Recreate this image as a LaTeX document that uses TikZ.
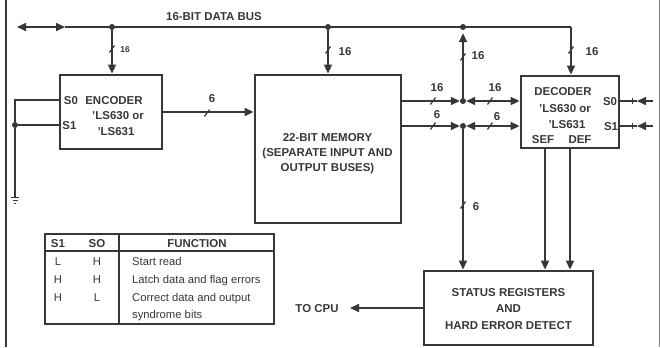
\documentclass[tikz,border=0pt]{standalone}
\usepackage{fontspec}
\setmainfont{Liberation Sans}
\usetikzlibrary{arrows.meta}
\definecolor{ink}{RGB}{55,55,55}
\begin{document}
\begin{tikzpicture}[x=1bp,y=-1bp,
  >={Triangle[length=9bp,width=8bp]},
  font=\fontsize{11.5}{13}\selectfont\bfseries,
  box/.style={draw=ink, line width=2.8bp, rectangle, inner sep=0pt},
  wire/.style={draw=ink, line width=1.6bp},
  dot/.style={circle, fill=ink, inner sep=0pt, minimum size=6bp},
  lbl/.style={inner sep=0pt, text height=8bp, text depth=0bp, text=ink},
  small/.style={lbl, font=\fontsize{8.5}{10}\selectfont\bfseries},
  tbl/.style={inner sep=0pt, text height=8bp, text depth=2bp, text=ink, font=\fontsize{11.3}{13}\selectfont},
  busslash/.pic={\draw[ink, line width=1.2bp] (-2.5,3.5) -- (2.5,-3.5);}
]
\useasboundingbox (0,0) rectangle (660,347);

% frame lines
\draw[ink, line width=2bp] (6,0) -- (6,347);
\draw[gray, line width=0.8bp] (659,0) -- (659,347);

% boxes
\node[box, minimum width=102bp, minimum height=74bp] (enc) at (111,112) {};
\node[box, minimum width=146bp, minimum height=148bp] (mem) at (328,149) {};
\node[box, minimum width=98bp, minimum height=72bp] (dec) at (570,112) {};
\node[box, minimum width=169bp, minimum height=74bp] (stat) at (508.5,308) {};

% box texts
\node[lbl] (tS0e) at (71,100) {S0};
\node[lbl] (tS1e) at (69.5,125) {S1};
\node[lbl] (tenc1) at (114,100) {ENCODER};
\node[lbl] (tenc2) at (118,115) {'LS630 or};
\node[lbl] (tenc3) at (116,131) {'LS631};

\node[lbl] (tmem1) at (327.5,137) {22-BIT MEMORY};
\node[lbl] (tmem2) at (327.5,152) {(SEPARATE INPUT AND};
\node[lbl] (tmem3) at (327.5,167) {OUTPUT BUSES)};

\node[lbl] (tdec1) at (563,91) {DECODER};
\node[lbl] (tdec2) at (565,108) {'LS630 or};
\node[lbl] (tdec3) at (567,124) {'LS631};
\node[lbl] (tsef) at (543,139) {SEF};
\node[lbl] (tdef) at (580,139) {DEF};
\node[lbl] (tS0d) at (610,101) {S0};
\node[lbl] (tS1d) at (611,126) {S1};

\node[lbl] (tst1) at (508.5,292) {STATUS REGISTERS};
\node[lbl] (tst2) at (508.5,308) {AND};
\node[lbl] (tst3) at (508.5,325) {HARD ERROR DETECT};

% data bus
\coordinate (busL) at (17,27);
\coordinate (busA) at (65,27);
\coordinate (busR) at (571,27);
\node[dot] (j1) at (112,27) {};
\node[dot] (j2) at (328,27) {};
\node[dot] (j3) at (463,27) {};
\draw[wire,<->] (busL) -- (busA);
\draw[wire] (busA) -- (busR);
\draw[wire,->] (busR) -- (busR |- dec.north);
\node[lbl] (tbus) at (214,16) {16-BIT DATA BUS};

\draw[wire,->] (j1) -- (j1 |- enc.north);
\pic at (112,49) {busslash};
\node[small] (l1) at (125,48) {16};

\draw[wire,->] (j2) -- (j2 |- mem.north);
\pic at (328,50) {busslash};
\node[lbl] (l2) at (345,51) {16};

\pic at (571,50) {busslash};
\node[lbl] (l3) at (592,51) {16};

% encoder to memory
\draw[wire,->] (enc.east) -- (enc.east -| mem.west);
\pic at (207,113) {busslash};
\node[lbl] (l4) at (212,98) {6};

% memory outputs
\node[dot] (k16) at (463,101) {};
\node[dot] (k6) at (463,126) {};
\draw[wire,->] (k16 -| mem.east) -- (k16);
\draw[wire,<->] (k16) -- (k16 -| dec.west);
\draw[wire,->] (k6 -| mem.east) -- (k6);
\draw[wire,<->] (k6) -- (k6 -| dec.west);
\pic at (433,101) {busslash};
\node[lbl] (l5) at (437,87) {16};
\pic at (490,101) {busslash};
\node[lbl] (l6) at (495,87) {16};
\pic at (433,126) {busslash};
\node[lbl] (l7) at (437,114) {6};
\pic at (490,126) {busslash};
\node[lbl] (l8) at (497,116) {6};

% vertical at junctions
\draw[wire,->,shorten >=3bp] (k16) -- (j3);
\pic at (463,57) {busslash};
\node[lbl] (l9) at (478,55) {16};
\draw[wire,->] (k6) -- (k6 |- stat.north);
\pic at (463,205) {busslash};
\node[lbl] (l10) at (476,206) {6};

% SEF / DEF
\coordinate (sefx) at (545,0);
\coordinate (defx) at (570,0);
\draw[wire,->] (dec.south -| sefx) -- (stat.north -| sefx);
\draw[wire,->] (dec.south -| defx) -- (stat.north -| defx);

% decoder S0/S1 inputs
\coordinate (s0e) at (653,101);
\coordinate (s0t) at (637,101);
\coordinate (s1e) at (653,126);
\coordinate (s1t) at (637,126);
\draw[wire] (s0t -| dec.east) -- (s0t);
\draw[wire,->] (s0e) -- (s0t);
\draw[wire] (s1t -| dec.east) -- (s1t);
\draw[wire,->] (s1e) -- (s1t);
\draw[ink, line width=0.6bp] (632,98) -- (632,104);
\draw[ink, line width=0.6bp] (632,123) -- (632,129);

% encoder S0/S1 and ground
\node[dot] (gdot) at (15,125) {};
\coordinate (s0l) at (15,100);
\coordinate (gnd) at (15,197);
\draw[wire] (s0l -| enc.west) -- (s0l) -- (gdot);
\draw[wire] (gdot) -- (gdot -| enc.west);
\draw[wire] (gdot) -- (gnd);
\draw[ink, line width=1bp] (11,197) -- (19,197);
\draw[ink, line width=1bp] (12.5,200) -- (17.5,200);
\draw[ink, line width=1bp] (14,203) -- (16,203);

% to CPU
\coordinate (cpu) at (350,308);
\draw[wire,->] (cpu -| stat.west) -- (cpu);
\node[lbl] (tcpu) at (317,308) {TO CPU};

% table
\draw[ink, line width=1.6bp] (45,234) rectangle (274,324);
\draw[ink, line width=1.3bp] (45,251) -- (274,251);
\draw[ink, line width=1.3bp] (119,234) -- (119,324);
\node[lbl] (h1) at (58,243) {S1};
\node[lbl] (h2) at (97,243) {SO};
\node[lbl] (h3) at (197,243) {FUNCTION};
\node[tbl] (r1a) at (58,262) {L};
\node[tbl] (r1b) at (97,262) {H};
\node[tbl] (r2a) at (58,280) {H};
\node[tbl] (r2b) at (97,280) {H};
\node[tbl] (r3a) at (58,298) {H};
\node[tbl] (r3b) at (97,298) {L};
\node[tbl, anchor=west] (f1) at (132,262) {Start read};
\node[tbl, anchor=west] (f2) at (132,280) {Latch data and flag errors};
\node[tbl, anchor=west] (f3) at (132,298) {Correct data and output};
\node[tbl, anchor=west] (f4) at (132,315) {syndrome bits};
\end{tikzpicture}
\end{document}
